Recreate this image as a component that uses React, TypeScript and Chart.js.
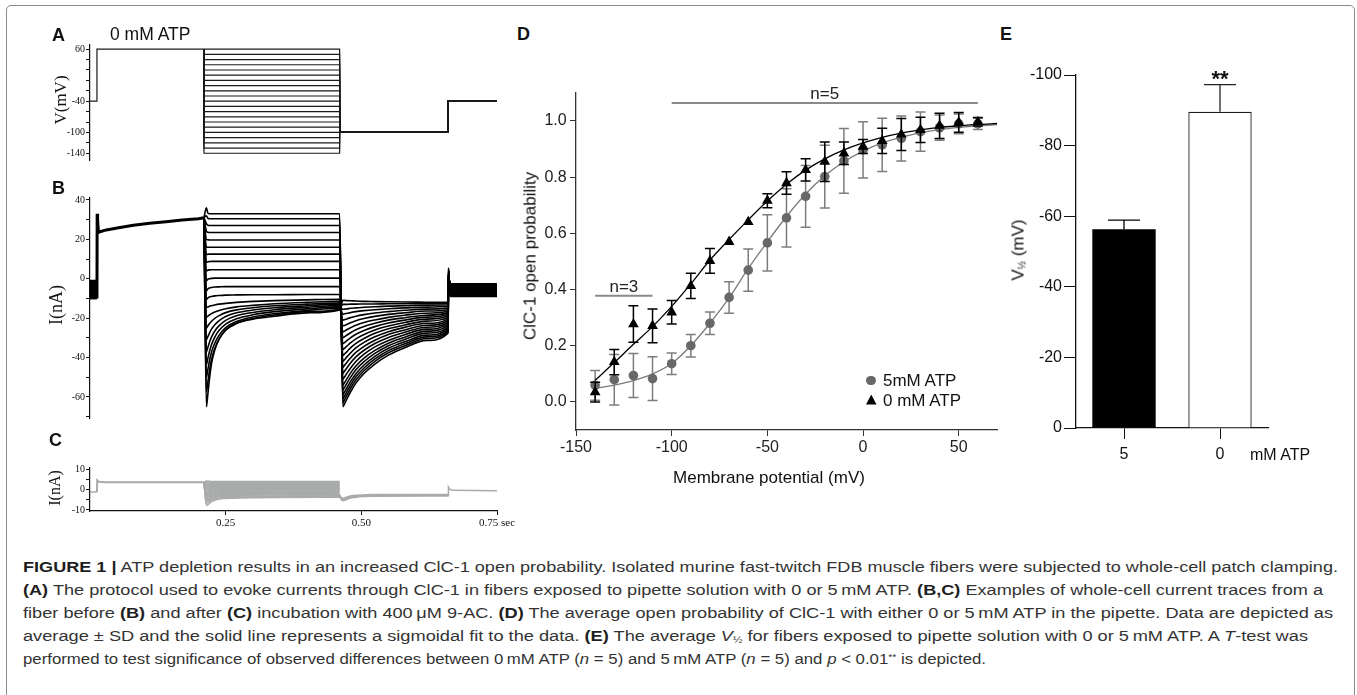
import React, { useEffect, useLayoutEffect, useRef } from "react";
import { Chart, registerables } from "chart.js";
Chart.register(...registerables);

const SANS = '"Liberation Sans", Arial, Helvetica, sans-serif';
const SERIF = '"Liberation Serif", "Times New Roman", serif';

// ---------------- Panel A: voltage protocol ----------------
const protoEventTimes = [0, 0.0128, 0.21, 0.46, 0.66, 0.75];
const protoHoldV = -40;
const protoPreV = 60;
const protoTailV = -100;
const stepVoltages = [60, 50, 40, 30, 20, 10, 0, -10, -20, -30, -40, -50, -60, -70, -80, -90, -100, -110, -120, -130, -140];
const protoTickValues = [60, 40, 20, 0, -20, -40, -60, -80, -100, -120, -140];
const protoTickLabels = [60, -40, -100, -140];

// ---------------- Panel B: currents before 9-AC ----------------
const bTickValues = [40, 30, 20, 10, 0, -10, -20, -30, -40, -50, -60, -70];
const bTickLabels = [40, 20, 0, -20, -40, -60];
const bHoldTimes = [0, 0.0128];
const bHoldTop = [-0.5, -0.5];
const bHoldBottom = [-10.5, -10.5];
const bPreTimes = [0.0128, 0.0132, 0.014, 0.0155, 0.02, 0.03, 0.05, 0.08, 0.11, 0.14, 0.17, 0.2, 0.21];
const bPreCurrent = [-10, 33, 30, 23.5, 24, 24.8, 25.8, 27.2, 28.2, 29, 29.8, 30.5, 31];
const bTestTimes = [0.2145, 0.217, 0.22, 0.224, 0.23, 0.238, 0.25, 0.27, 0.3, 0.34, 0.4, 0.46];
const bTestCurrents = [
  [36, 33.5, 33, 33, 33, 33, 33, 33, 33, 33, 33, 33],
  [32, 30.8, 30.5, 30.5, 30.5, 30.5, 30.5, 30.5, 30.5, 30.5, 30.5, 30.5],
  [28, 27.2, 27, 27, 27, 27, 27, 27, 27, 27, 27, 27],
  [24.2, 23.6, 23.5, 23.5, 23.5, 23.5, 23.5, 23.5, 23.5, 23.5, 23.5, 23.5],
  [20, 19.8, 19.7, 19.7, 19.7, 19.7, 19.7, 19.7, 19.7, 19.7, 19.7, 19.7],
  [16, 16, 16, 16, 16, 16, 16, 16, 16, 16, 16, 16],
  [12.2, 12.4, 12.5, 12.5, 12.5, 12.5, 12.5, 12.5, 12.5, 12.5, 12.5, 12.5],
  [8.3, 8.6, 8.7, 8.8, 8.8, 8.8, 8.8, 8.8, 8.8, 8.8, 8.8, 8.8],
  [3.9, 4.3, 4.5, 4.6, 4.6, 4.6, 4.6, 4.6, 4.6, 4.6, 4.6, 4.6],
  [-1, -0.3, 0, 0.2, 0.3, 0.3, 0.3, 0.3, 0.3, 0.3, 0.3, 0.3],
  [-6, -5.2, -4.7, -4.4, -4.2, -4.1, -4, -4, -4, -4, -4, -4],
  [-10.5, -9.8, -9.3, -9, -8.7, -8.5, -8.3, -8.2, -8.1, -8.1, -8, -8],
  [-14.5, -14.3, -14, -13.7, -13.3, -12.9, -12.5, -12, -11.5, -11.1, -10.7, -10.4],
  [-19.5, -19, -18.4, -17.7, -16.9, -16.1, -15.2, -14.3, -13.5, -12.7, -12, -11.5],
  [-25, -24, -22.9, -21.6, -20.1, -18.7, -17.2, -15.8, -14.7, -13.7, -12.9, -12.3],
  [-31, -29.5, -27.7, -25.6, -23.4, -21.3, -19.2, -17.3, -15.9, -14.7, -13.7, -12.9],
  [-37, -35, -32.4, -29.5, -26.5, -23.8, -21.1, -18.8, -17.1, -15.7, -14.5, -13.6],
  [-43.5, -40.7, -37.2, -33.4, -29.6, -26.2, -23, -20.3, -18.3, -16.7, -15.3, -14.3],
  [-50, -46.4, -41.9, -37.2, -32.7, -28.6, -24.8, -21.7, -19.4, -17.7, -16.1, -14.9],
  [-57.5, -52.8, -46.9, -40.9, -35.4, -30.6, -26.1, -22.7, -20.2, -18.4, -16.7, -15.4],
  [-65, -59, -51.3, -43, -36, -30.5, -26, -22.6, -20.5, -19, -17.3, -15.8],
];
const bTailTimes = [0.466, 0.469, 0.473, 0.48, 0.49, 0.505, 0.525, 0.55, 0.58, 0.62, 0.66];
const bTailCurrents = [
  [-65, -63.5, -61.3, -57.5, -53, -48.1, -43.3, -38.8, -35, -31.3, -27.5],
  [-63, -61.5, -59.4, -55.7, -51.4, -46.7, -41.9, -37.6, -34, -30.3, -26.7],
  [-61, -59.6, -57.5, -54, -49.8, -45.3, -40.7, -36.5, -33, -29.5, -26],
  [-59, -57.6, -55.6, -52.2, -48.2, -43.8, -39.4, -35.3, -32, -28.6, -25.2],
  [-56.5, -55.2, -53.3, -50.1, -46.2, -42.1, -37.9, -34, -30.8, -27.6, -24.4],
  [-54, -52.8, -51, -47.9, -44.3, -40.3, -36.4, -32.7, -29.7, -26.6, -23.6],
  [-51, -49.9, -48.2, -45.4, -42, -38.3, -34.6, -31.3, -28.4, -25.6, -22.8],
  [-48, -47, -45.4, -42.8, -39.7, -36.3, -32.9, -29.8, -27.2, -24.6, -22],
  [-45, -44, -42.6, -40.2, -37.4, -34.3, -31.2, -28.3, -26, -23.6, -21.2],
  [-42, -41.1, -39.8, -37.7, -35.1, -32.3, -29.5, -26.9, -24.7, -22.6, -20.4],
  [-39, -38.2, -37.1, -35.1, -32.8, -30.3, -27.7, -25.4, -23.5, -21.5, -19.6],
  [-36, -35.3, -34.3, -32.6, -30.5, -28.3, -26, -24, -22.2, -20.5, -18.8],
  [-33, -32.4, -31.5, -30, -28.2, -26.3, -24.3, -22.5, -21, -19.5, -18],
  [-30, -29.5, -28.7, -27.4, -25.9, -24.2, -22.6, -21, -19.8, -18.5, -17.2],
  [-27, -26.6, -25.9, -24.9, -23.6, -22.2, -20.9, -19.6, -18.5, -17.5, -16.4],
  [-24, -23.7, -23.2, -22.3, -21.3, -20.2, -19.1, -18.1, -17.3, -16.4, -15.6],
  [-21, -20.8, -20.4, -19.8, -19, -18.2, -17.4, -16.7, -16, -15.4, -14.8],
  [-18, -17.8, -17.6, -17.2, -16.7, -16.2, -15.7, -15.2, -14.8, -14.4, -14],
  [-15.5, -15.4, -15.3, -15, -14.8, -14.5, -14.2, -13.9, -13.7, -13.4, -13.2],
  [-13, -13, -13, -12.9, -12.9, -12.8, -12.8, -12.7, -12.7, -12.6, -12.6],
  [-11, -11, -11.1, -11.2, -11.3, -11.5, -11.6, -11.7, -11.8, -11.9, -12],
];
const bEndTimes = [0.6605, 0.664, 0.75];
const bEndSpike = [5.5, 5.2, 4.9, 4.6, 4.3, 4, 3.7, 3.4, 3.1, 2.8, 2.5, 2.2, 1.9, 1.6, 1.3, 1, 0.7, 0.4, 0.1, -0.2, -0.5];
const bEndLevel = [-9, -8.7, -8.35, -8.05, -7.7, -7.4, -7.05, -6.75, -6.4, -6.1, -5.75, -5.45, -5.1, -4.8, -4.45, -4.15, -3.8, -3.5, -3.15, -2.85, -2.5];

// ---------------- Panel C: currents after 9-AC ----------------
const cTickValues = [10, 5, 0, -5, -10];
const cTickLabels = [10, 0, -10];
const cTimeTicks = [0.25, 0.5, 0.75];
const cTimeLabels = ["0.25", "0.50", "0.75 sec"];
const cHoldTimes = [0, 0.0128];
const cHoldCurrent = [-1.2, -1.2];
const cPreTimes = [0.0128, 0.0133, 0.016, 0.03, 0.21];
const cPreCurrent = [-1.2, 4.5, 3.8, 3.5, 3.5];
const cTestTimes = [0.2145, 0.225, 0.245, 0.46];
const cTestPeak = [4.2, 3.7, 3.2, 2.7, 2.2, 1.7, 1.2, 0.7, 0.2, -0.3, -0.8, -1.4, -2.0, -2.6, -3.2, -3.8, -4.5, -5.2, -5.9, -6.8, -7.8];
const cTestMid1 = [3.9, 3.5, 3.1, 2.7, 2.3, 1.9, 1.5, 1.0, 0.6, 0.2, -0.2, -0.7, -1.2, -1.7, -2.2, -2.7, -3.3, -3.8, -4.4, -5.0, -5.8];
const cTestMid2 = [3.9, 3.5, 3.1, 2.7, 2.4, 2.0, 1.6, 1.2, 0.8, 0.4, 0.0, -0.4, -0.8, -1.2, -1.6, -2.0, -2.5, -2.9, -3.4, -3.9, -4.4];
const cTestLevel = [3.9, 3.5, 3.1, 2.7, 2.4, 2.0, 1.6, 1.2, 0.8, 0.4, 0.1, -0.3, -0.7, -1.1, -1.5, -1.8, -2.2, -2.6, -3.0, -3.4, -3.8];
const cTailTimes = [0.46, 0.462, 0.466, 0.472, 0.48, 0.495, 0.52, 0.66];
const cTailA = [-3.5, -4.5, -5.5, -5, -4.2, -3.6, -3.3, -3.2];
const cTailB = [-3, -4, -5, -4.4, -3.7, -3.2, -2.9, -2.8];
const cTailC = [-2.5, -3.5, -4.3, -3.8, -3.2, -2.8, -2.5, -2.4];
const cEndTimes = [0.66, 0.6605, 0.663, 0.667, 0.75];
const cEndCurrent = [-3, 1.2, 0.2, -0.4, -0.6];

// ---------------- Panel D: open probability ----------------
const dV = [-140, -130, -120, -110, -100, -90, -80, -70, -60, -50, -40, -30, -20, -10, 0, 10, 20, 30, 40, 50, 60];
const d5Mean = [0.059, 0.079, 0.094, 0.083, 0.136, 0.2, 0.28, 0.372, 0.469, 0.566, 0.655, 0.732, 0.802, 0.858, 0.897, 0.915, 0.938, 0.962, 0.976, 0.99, 0.99];
const d5SD = [0.053, 0.09, 0.078, 0.078, 0.038, 0.04, 0.04, 0.056, 0.075, 0.1, 0.104, 0.11, 0.112, 0.115, 0.1, 0.095, 0.08, 0.07, 0.045, 0.035, 0.02];
const d0Mean = [0.035, 0.142, 0.277, 0.271, 0.319, 0.413, 0.502, 0.57, 0.641, 0.716, 0.779, 0.826, 0.855, 0.885, 0.909, 0.929, 0.952, 0.968, 0.983, 0.995, 0.997];
const d0SD = [0.035, 0.045, 0.065, 0.06, 0.042, 0.045, 0.044, 0, 0, 0.025, 0.04, 0.04, 0.07, 0.04, 0.025, 0.045, 0.057, 0.045, 0.045, 0.035, 0.015];
const fitV = [-140, -130, -120, -110, -100, -90, -80, -70, -60, -50, -40, -30, -20, -10, 0, 10, 20, 30, 40, 50, 60, 70];
const fit5 = [0.048, 0.06, 0.076, 0.1, 0.137, 0.2, 0.28, 0.37, 0.475, 0.57, 0.66, 0.74, 0.805, 0.855, 0.893, 0.922, 0.943, 0.958, 0.969, 0.977, 0.983, 0.987];
const fit0 = [0.077, 0.14, 0.205, 0.268, 0.34, 0.42, 0.505, 0.578, 0.648, 0.715, 0.775, 0.825, 0.865, 0.897, 0.922, 0.942, 0.957, 0.968, 0.977, 0.983, 0.988, 0.991];
const dXTicks = [-150, -100, -50, 0, 50];
const dYTicks = [0, 0.2, 0.4, 0.6, 0.8, 1.0];
const nLabels = ["n=3", "n=5"];
const nFrom = [-140, -100];
const nTo = [-110, 60];
const nLevel = [0.378, 1.064];

// ---------------- Panel E: V1/2 ----------------
const eCategories = ["5", "0"];
const eMeans = [-56.3, -89.6];
const eSD = [2.6, 7.7];
const eSig = ["", "**"];
const eYTicks = [0, -20, -40, -60, -80, -100];

// ---------------- helpers ----------------
const pts = (xs: number[], ys: number[]) => xs.map((x, i) => ({ x, y: ys[i] }));
const setTicks = (vals: number[]) => (scale: any) => {
  scale.ticks = vals.map((v) => ({ value: v }));
};
const baseOptions = (padding: any) => ({
  responsive: false,
  animation: false,
  events: [],
  layout: { padding, autoPadding: false },
  plugins: { legend: { display: false }, tooltip: { enabled: false }, title: { display: false } },
});
const axisLook = (color: string, tickLength: number, borderWidth = 1) => ({
  grid: { display: true, drawOnChartArea: false, drawTicks: true, tickLength, color, lineWidth: 1 },
  border: { display: true, color, width: borderWidth },
});

type Box = { left: number; top: number; width: number; height: number };

function PlotCanvas({ box, build }: { box: Box; build: () => any }) {
  const ref = useRef<HTMLCanvasElement | null>(null);
  useEffect(() => {
    if (!ref.current) return;
    const chart = new Chart(ref.current, build());
    return () => chart.destroy();
  }, []);
  return (
    <canvas
      ref={ref}
      width={box.width}
      height={box.height}
      style={{ position: "absolute", left: box.left, top: box.top, width: box.width, height: box.height }}
    />
  );
}

// ---------------- chart configs ----------------
function buildA() {
  const [t0, t1, t2, t3, t4, t5] = protoEventTimes;
  const line = { borderColor: "#1a1a1a", borderWidth: 1.2, pointRadius: 0, fill: false, tension: 0 };
  const datasets: any[] = [
    { ...line, data: [{ x: t0, y: protoHoldV }, { x: t1, y: protoHoldV }, { x: t1, y: protoPreV }, { x: t2, y: protoPreV }] },
    ...stepVoltages.map((v) => ({
      ...line,
      data: [
        { x: t2, y: protoPreV }, { x: t2, y: v }, { x: t3, y: v }, { x: t3, y: protoTailV },
        { x: t4, y: protoTailV }, { x: t4, y: protoHoldV }, { x: t5, y: protoHoldV },
      ],
    })),
  ];
  return {
    type: "line",
    data: { datasets },
    options: {
      ...baseOptions({ left: 0, top: 10, right: 13, bottom: 10 }),
      scales: {
        x: { type: "linear", min: 0, max: 0.75, display: false },
        y: {
          type: "linear", min: -153, max: 68,
          afterFit: (s: any) => { s.width = 60; },
          afterBuildTicks: setTicks(protoTickValues),
          ticks: {
            autoSkip: false, padding: 1, color: "#111", font: { family: SERIF, size: 10 },
            callback: (v: any) => (protoTickLabels.includes(v) ? String(v) : ""),
          },
          ...axisLook("#111", 4, 1.2),
        },
      },
    },
  };
}

function buildB() {
  const lastT = bPreTimes[bPreTimes.length - 1];
  const lastI = bPreCurrent[bPreCurrent.length - 1];
  const traceStyle = { borderColor: "#000", borderWidth: 1.6, pointRadius: 0, fill: false, cubicInterpolationMode: "monotone" };
  const datasets: any[] = [
    { data: pts(bHoldTimes, bHoldTop), borderColor: "rgba(0,0,0,0)", pointRadius: 0, fill: false },
    { data: pts(bHoldTimes, bHoldBottom), borderColor: "rgba(0,0,0,0)", backgroundColor: "#000", pointRadius: 0, fill: "-1" },
    { data: pts(bPreTimes, bPreCurrent), borderColor: "#000", borderWidth: 3, pointRadius: 0, tension: 0, fill: false },
    ...bTestCurrents.map((test, i) => ({
      ...traceStyle,
      data: [
        { x: lastT, y: lastI },
        ...pts(bTestTimes, test),
        ...pts(bTailTimes, bTailCurrents[i]),
        { x: bEndTimes[0], y: bEndSpike[i] },
        { x: bEndTimes[1], y: bEndLevel[i] },
        { x: bEndTimes[2], y: bEndLevel[i] },
      ],
    })),
  ];
  return {
    type: "line",
    data: { datasets },
    options: {
      ...baseOptions({ left: 0, top: 10, right: 13, bottom: 10 }),
      scales: {
        x: { type: "linear", min: 0, max: 0.75, display: false },
        y: {
          type: "linear", min: -70.7, max: 41,
          afterFit: (s: any) => { s.width = 60; },
          afterBuildTicks: setTicks(bTickValues),
          ticks: {
            autoSkip: false, padding: 1, color: "#111", font: { family: SERIF, size: 10 },
            callback: (v: any) => (bTickLabels.includes(v) ? String(v) : ""),
          },
          ...axisLook("#111", 4, 1.2),
        },
      },
    },
  };
}

function buildC() {
  const gray = "#a9abaa";
  const style = { borderColor: gray, borderWidth: 1.5, pointRadius: 0, fill: false, tension: 0 };
  const lastT = cPreTimes[cPreTimes.length - 1];
  const lastI = cPreCurrent[cPreCurrent.length - 1];
  const datasets: any[] = [
    { ...style, data: pts(cHoldTimes, cHoldCurrent) },
    { ...style, borderWidth: 2, data: pts(cPreTimes, cPreCurrent) },
    ...cTestLevel.map((lvl, i) => ({
      ...style,
      cubicInterpolationMode: "monotone",
      data: [
        { x: lastT, y: lastI },
        { x: cTestTimes[0], y: cTestPeak[i] },
        { x: cTestTimes[1], y: cTestMid1[i] },
        { x: cTestTimes[2], y: cTestMid2[i] },
        { x: cTestTimes[3], y: lvl },
      ],
    })),
    { ...style, cubicInterpolationMode: "monotone", data: pts(cTailTimes, cTailA) },
    { ...style, cubicInterpolationMode: "monotone", data: pts(cTailTimes, cTailB) },
    { ...style, cubicInterpolationMode: "monotone", data: pts(cTailTimes, cTailC) },
    { ...style, data: pts(cEndTimes, cEndCurrent) },
  ];
  return {
    type: "line",
    data: { datasets },
    options: {
      ...baseOptions({ left: 0, top: 10, right: 33, bottom: 7 }),
      scales: {
        x: {
          type: "linear", min: 0, max: 0.75,
          afterFit: (s: any) => { s.height = 30; },
          afterBuildTicks: setTicks(cTimeTicks),
          ticks: {
            autoSkip: false, maxRotation: 0, padding: 1.5, color: "#111", font: { family: SERIF, size: 11 },
            callback: (_v: any, i: number) => cTimeLabels[i],
          },
          ...axisLook("#111", 4, 1.2),
        },
        y: {
          type: "linear", min: -10.5, max: 10.5,
          afterFit: (s: any) => { s.width = 60; },
          afterBuildTicks: setTicks(cTickValues),
          ticks: {
            autoSkip: false, padding: 1, color: "#111", font: { family: SERIF, size: 10 },
            callback: (v: any) => (cTickLabels.includes(v) ? String(v) : ""),
          },
          ...axisLook("#111", 4, 1.2),
        },
      },
    },
  };
}

const dPlugin = {
  id: "dExtras",
  beforeDatasetDraw(chart: any, args: any) {
    const ds = chart.data.datasets[args.index];
    if (!ds.sd) return;
    const xs = chart.scales.x, ys = chart.scales.y, ctx = chart.ctx;
    ctx.save();
    ctx.strokeStyle = ds.errColor;
    ctx.lineWidth = 1.5;
    ds.data.forEach((p: any, i: number) => {
      if (!ds.sd[i]) return;
      const px = xs.getPixelForValue(p.x);
      const y1 = ys.getPixelForValue(p.y + ds.sd[i]);
      const y2 = ys.getPixelForValue(p.y - ds.sd[i]);
      ctx.beginPath();
      ctx.moveTo(px, y1); ctx.lineTo(px, y2);
      ctx.moveTo(px - 5, y1); ctx.lineTo(px + 5, y1);
      ctx.moveTo(px - 5, y2); ctx.lineTo(px + 5, y2);
      ctx.stroke();
    });
    ctx.restore();
  },
  afterDatasetsDraw(chart: any) {
    const xs = chart.scales.x, ys = chart.scales.y, ctx = chart.ctx;
    ctx.save();
    nLabels.forEach((lab, i) => {
      const x1 = xs.getPixelForValue(nFrom[i]);
      const x2 = xs.getPixelForValue(nTo[i]);
      const y = ys.getPixelForValue(nLevel[i]);
      ctx.strokeStyle = "#8a8a8a";
      ctx.lineWidth = 2;
      ctx.beginPath(); ctx.moveTo(x1, y); ctx.lineTo(x2, y); ctx.stroke();
      ctx.fillStyle = "#222";
      ctx.font = `17px ${SANS}`;
      ctx.textAlign = "center";
      ctx.textBaseline = "alphabetic";
      ctx.fillText(lab, (x1 + x2) / 2, y - 4);
    });
    ctx.restore();
  },
};

function buildD() {
  const datasets: any[] = [
    {
      data: pts(dV, d0Mean), showLine: false, pointStyle: "triangle", pointRadius: 6.2,
      pointBackgroundColor: "#000", pointBorderColor: "#000", pointBorderWidth: 0, sd: d0SD, errColor: "#000",
    },
    { data: pts(fitV, fit0), borderColor: "#000", borderWidth: 1.3, pointRadius: 0, fill: false, cubicInterpolationMode: "monotone" },
    {
      data: pts(dV, d5Mean), showLine: false, pointStyle: "circle", pointRadius: 4.8,
      pointBackgroundColor: "#686868", pointBorderColor: "#686868", pointBorderWidth: 0, sd: d5SD, errColor: "#7d7d7d",
    },
    { data: pts(fitV, fit5), borderColor: "#7a7a7a", borderWidth: 1.3, pointRadius: 0, fill: false, cubicInterpolationMode: "monotone" },
  ];
  return {
    type: "line",
    data: { datasets },
    plugins: [dPlugin],
    options: {
      ...baseOptions({ left: 0, top: 10, right: 23, bottom: 10 }),
      scales: {
        x: {
          type: "linear", min: -150, max: 70,
          afterFit: (s: any) => { s.height = 30; },
          afterBuildTicks: setTicks(dXTicks),
          ticks: { autoSkip: false, maxRotation: 0, padding: 1.5, color: "#222", font: { family: SANS, size: 16 }, callback: (v: any) => String(v) },
          ...axisLook("#333", 6, 1.3),
        },
        y: {
          type: "linear", min: -0.1, max: 1.1,
          afterFit: (s: any) => { s.width = 66; },
          afterBuildTicks: setTicks(dYTicks),
          ticks: { autoSkip: false, padding: 3.3, color: "#222", font: { family: SANS, size: 16 }, callback: (v: any) => Number(v).toFixed(1) },
          ...axisLook("#333", 6, 1.3),
        },
      },
    },
  };
}

const ePlugin = {
  id: "eExtras",
  afterDatasetsDraw(chart: any) {
    const xs = chart.scales.x, ys = chart.scales.y, ctx = chart.ctx;
    ctx.save();
    eMeans.forEach((m, i) => {
      const px = xs.getPixelForValue(i);
      const y0 = ys.getPixelForValue(m);
      const y1 = ys.getPixelForValue(m - eSD[i]);
      ctx.strokeStyle = i === 0 ? "#000" : "#222";
      ctx.lineWidth = 1.3;
      ctx.beginPath();
      ctx.moveTo(px, y0); ctx.lineTo(px, y1);
      ctx.moveTo(px - 16, y1); ctx.lineTo(px + 16, y1);
      ctx.stroke();
      if (eSig[i]) {
        ctx.fillStyle = "#111";
        ctx.font = `bold 22px ${SANS}`;
        ctx.textAlign = "center";
        ctx.textBaseline = "alphabetic";
        ctx.fillText(eSig[i], px, y1 + 1);
      }
    });
    ctx.restore();
  },
};

function buildE() {
  return {
    type: "bar",
    data: {
      labels: eCategories,
      datasets: [
        {
          data: eMeans,
          backgroundColor: ["#000", "#fff"],
          borderColor: ["#000", "#1a1a1a"],
          borderWidth: [0, 1.3],
          borderSkipped: "start",
          barPercentage: 0.66,
          categoryPercentage: 1,
        },
      ],
    },
    plugins: [ePlugin],
    options: {
      ...baseOptions({ left: 0, top: 15, right: 32, bottom: 12 }),
      scales: {
        x: {
          type: "category", offset: true,
          afterFit: (s: any) => { s.height = 40; },
          ticks: { padding: 6, color: "#111", font: { family: SANS, size: 16 } },
          grid: { display: true, drawOnChartArea: false, drawTicks: true, tickLength: 11, color: "#111", offset: false },
          border: { display: true, color: "#111", width: 1.3 },
        },
        y: {
          type: "linear", min: -100, max: 0, reverse: true,
          afterFit: (s: any) => { s.width = 76; },
          afterBuildTicks: setTicks(eYTicks),
          ticks: { autoSkip: false, padding: 2, color: "#111", font: { family: SANS, size: 16 }, callback: (v: any) => String(v) },
          ...axisLook("#111", 12, 1.3),
        },
      },
    },
  };
}

// ---------------- text overlays ----------------
function T({ x, y, size, children, bold, family, color, rotate }: any) {
  const style: any = {
    position: "absolute",
    left: x,
    top: y,
    fontSize: size,
    lineHeight: `${size}px`,
    fontFamily: family || SANS,
    fontWeight: bold ? 700 : 400,
    color: color || "#111",
    whiteSpace: "nowrap",
  };
  if (rotate) {
    style.transform = "translate(-50%, -50%) rotate(-90deg)";
  }
  return <div style={style}>{children}</div>;
}

type Seg = [string, string];
const captionLines: Seg[][] = [
  [["FIGURE 1 |", "b"], [" ATP depletion results in an increased ClC-1 open probability. Isolated murine fast-twitch FDB muscle fibers were subjected to whole-cell patch clamping.", ""]],
  [["(A)", "b"], [" The protocol used to evoke currents through ClC-1 in fibers exposed to pipette solution with 0 or 5\u2009mM ATP. ", ""], ["(B,C)", "b"], [" Examples of whole-cell current traces from a", ""]],
  [["fiber before ", ""], ["(B)", "b"], [" and after ", ""], ["(C)", "b"], [" incubation with 400\u2009\u03bcM 9-AC. ", ""], ["(D)", "b"], [" The average open probability of ClC-1 with either 0 or 5\u2009mM ATP in the pipette. Data are depicted as", ""]],
  [["average \u00b1 SD and the solid line represents a sigmoidal fit to the data. ", ""], ["(E)", "b"], [" The average ", ""], ["V", "i"], ["\u00bd", "sub"], [" for fibers exposed to pipette solution with 0 or 5\u2009mM ATP. A ", ""], ["T", "i"], ["-test was", ""]],
  [["performed to test significance of observed differences between 0\u2009mM ATP (", ""], ["n", "i"], [" = 5) and 5\u2009mM ATP (", ""], ["n", "i"], [" = 5) and ", ""], ["p", "i"], [" < 0.01", ""], ["**", "sup"], [" is depicted.", ""]],
];
const captionTops = [559, 582, 605, 628, 651];
const captionWidths = [1315, 1300, 1310, 1285, 963];

function renderSeg(s: Seg, k: number) {
  const [t, kind] = s;
  if (kind === "b") return <b key={k} style={{ color: "#1e1e1e" }}>{t}</b>;
  if (kind === "i") return <i key={k}>{t}</i>;
  if (kind === "sub") return <span key={k} style={{ fontSize: "0.62em", verticalAlign: "-0.25em", lineHeight: 0 }}>{t}</span>;
  if (kind === "sup") return <span key={k} style={{ fontSize: "0.62em", verticalAlign: "0.45em", lineHeight: 0 }}>{t}</span>;
  return <span key={k}>{t}</span>;
}

function CaptionLine({ segs, top, width }: { segs: Seg[]; top: number; width: number }) {
  const ref = useRef<HTMLDivElement | null>(null);
  useLayoutEffect(() => {
    const el = ref.current;
    if (!el) return;
    el.style.transform = "none";
    const w = el.getBoundingClientRect().width;
    if (w > 0) el.style.transform = `scaleX(${width / w})`;
  }, []);
  return (
    <div
      ref={ref}
      style={{
        position: "absolute", left: 23, top, fontFamily: SANS, fontSize: 15.5, lineHeight: "15.5px",
        color: "#333", whiteSpace: "nowrap", transformOrigin: "0 0",
      }}
    >
      {segs.map(renderSeg)}
    </div>
  );
}

export default function App() {
  return (
    <div style={{ position: "fixed", left: 0, top: 0, width: 1357, height: 695, background: "#fff", overflow: "hidden" }}>
      <div
        style={{
          position: "absolute", left: 6, top: 5, width: 1349, height: 760, boxSizing: "border-box",
          border: "1.5px solid #8c8c8c", borderRadius: 5,
        }}
      />
      <PlotCanvas box={{ left: 30, top: 35, width: 480, height: 135 }} build={buildA} />
      <PlotCanvas box={{ left: 30, top: 188, width: 480, height: 240 }} build={buildB} />
      <PlotCanvas box={{ left: 30, top: 458, width: 500, height: 90 }} build={buildC} />
      <PlotCanvas box={{ left: 510, top: 80, width: 510, height: 390 }} build={buildD} />
      <PlotCanvas box={{ left: 1000, top: 60, width: 300, height: 420 }} build={buildE} />

      {/* panel letters */}
      <T x={52} y={25.7} size={18} bold>A</T>
      <T x={52} y={179.4} size={18} bold>B</T>
      <T x={49} y={431} size={18} bold>C</T>
      <T x={517} y={25} size={18} bold>D</T>
      <T x={1000} y={25} size={18} bold>E</T>

      <T x={110} y={25.8} size={17.5}>0 mM ATP</T>

      {/* axis titles A, B, C */}
      <T x={60} y={100} size={17} family={SERIF} rotate>V(mV)</T>
      <T x={56} y={305} size={18} family={SERIF} rotate>I(nA)</T>
      <T x={55} y={488} size={16} family={SERIF} rotate>I(nA)</T>

      {/* axis titles D */}
      <T x={530} y={256} size={17} rotate>ClC-1 open probability</T>
      <T x={769} y={477} size={17} rotate={false}>
        <span style={{ position: "absolute", left: 0, top: 0, transform: "translate(-50%, -50%)" }}>Membrane potential (mV)</span>
      </T>

      {/* legend D */}
      <div style={{ position: "absolute", left: 866, top: 375.5, width: 9.5, height: 9.5, borderRadius: "50%", background: "#686868" }} />
      <T x={883} y={372} size={17}>5mM ATP</T>
      <div style={{ position: "absolute", left: 866, top: 394.5, width: 10.5, height: 10, background: "#000", clipPath: "polygon(50% 0, 100% 100%, 0 100%)" }} />
      <T x={883} y={391.5} size={17}>0 mM ATP</T>

      {/* axis titles E */}
      <T x={1020} y={250} size={17} rotate>
        V<span style={{ fontSize: 10, verticalAlign: "-0.2em" }}>½</span> (mV)
      </T>
      <T x={1250} y={447.4} size={16}>mM ATP</T>

      {captionLines.map((segs, i) => (
        <CaptionLine key={i} segs={segs} top={captionTops[i]} width={captionWidths[i]} />
      ))}
    </div>
  );
}
